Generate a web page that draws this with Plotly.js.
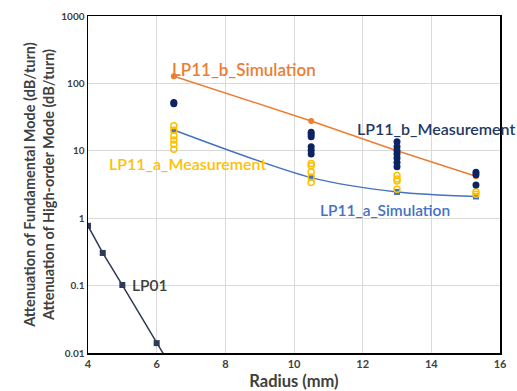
<!DOCTYPE html>
<html><head><meta charset="utf-8">
<script src="https://cdn.plot.ly/plotly-3.0.1.min.js"></script>
<style>html,body{margin:0;padding:0;background:#fff}#chart{width:517px;height:391px}</style>
</head><body><div id="chart"></div>
<script>
const simX = [6.5, 10.5, 13, 15.3];
const bSim = [128, 27.7, 10, 4.2];
const aSim = [20.4, 4.0, 2.45, 2.1];

const bMeasX = [6.5, 6.5, 10.5, 10.5, 10.5, 10.5, 10.5, 10.5, 13, 13, 13, 13, 13, 13, 13, 15.3, 15.3, 15.3];
const bMeas = [52, 50, 18.8, 17.6, 16.2, 11.5, 10.2, 9.0, 13.6, 11.5, 10, 9.0, 7.8, 6.7, 5.8, 4.8, 4.4, 3.1];

const aMeasX = [6.5, 6.5, 6.5, 6.5, 6.5, 6.5, 10.5, 10.5, 10.5, 10.5, 10.5, 13, 13, 13, 13, 15.3, 15.3];
const aMeas = [23.6, 20.2, 16.7, 14.5, 12.5, 10.5, 6.5, 6.0, 4.85, 4.1, 3.4, 4.3, 3.8, 3.55, 2.7, 2.47, 2.26];

const lp01X = [4, 4.43, 5, 6, 7];
const lp01 = [0.77, 0.305, 0.102, 0.014, 0.002];

const yTickVals = [0.01, 0.1, 1, 10, 100, 1000];
const yTickText = ['0.01', '0.1', '1', '10', '100', '1000'];

const FONT = 'Lato, "Open Sans", sans-serif';
const traces = [
  {x: lp01X, y: lp01, mode: 'lines+markers', line: {color: '#2f3b55', width: 1.5},
   marker: {symbol: 'square', size: 6, color: '#2f3b55'}, cliponaxis: true},
  {x: simX, y: aSim, mode: 'lines+markers', line: {color: '#4472c4', width: 1.5, shape: 'spline', smoothing: 0.8},
   marker: {symbol: 'square', size: 6, color: '#4472c4'}},
  {x: simX, y: bSim, mode: 'lines+markers', line: {color: '#ed7d31', width: 1.5},
   marker: {symbol: 'circle', size: 6, color: '#ed7d31'}},
  {x: aMeasX, y: aMeas, mode: 'markers',
   marker: {symbol: 'circle-open', size: 6, color: '#ffc000', line: {width: 1.5, color: '#ffc000'}}},
  {x: bMeasX, y: bMeas, mode: 'markers',
   marker: {symbol: 'circle', size: 7, color: '#0c2461'}}
];

function ann(text, x, y, color, size) {
  return {text: text, x: x, y: y, xref: 'paper', yref: 'paper',
    xanchor: 'left', yanchor: 'middle', showarrow: false,
    font: {family: FONT, size: size, color: color, weight: 600}};
}

const layout = {
  width: 517, height: 391,
  margin: {l: 88, r: 17, t: 16, b: 38},
  paper_bgcolor: '#fff', plot_bgcolor: '#fff',
  showlegend: false,
  font: {family: FONT, color: '#404040'},
  xaxis: {range: [4, 16], dtick: 2, tick0: 4, showgrid: true, gridcolor: '#d9d9d9', gridwidth: 1,
    showline: true, linecolor: '#000', linewidth: 1.5, mirror: true, zeroline: false, ticks: '',
    tickfont: {size: 11, color: '#404040', family: FONT, weight: 'bold'},
    title: {text: 'Radius (mm)', font: {size: 16.5, color: '#404040', family: FONT, weight: 'bold'}, standoff: 6}},
  yaxis: {type: 'log', range: [-2, 3], tickvals: yTickVals, ticktext: yTickText, showgrid: true,
    gridcolor: '#d9d9d9', gridwidth: 1, showline: true, linecolor: '#000', linewidth: 1.5, mirror: true,
    zeroline: false, ticks: '', tickfont: {size: 10, color: '#404040', family: FONT, weight: 'bold'},
    title: {text: 'Attenuation of Fundamental Mode (dB/turn)<br>Attenuation of High-order Mode (dB/turn)',
      font: {size: 14.5, color: '#404040', family: FONT, weight: 'bold'}, standoff: 3}},
  annotations: [
    ann('LP11_b_Simulation', 0.199, 0.840, '#ed7d31', 17),
    ann('LP11_b_Measurement', 0.648, 0.665, '#1f3864', 16),
    ann('LP11_a_Measurement', 0.046, 0.561, '#ffc000', 16),
    ann('LP11_a_Simulation', 0.558, 0.424, '#4472c4', 15.5),
    ann('LP01', 0.102, 0.202, '#404040', 15.5)
  ]
};
Plotly.newPlot('chart', traces, layout, {displayModeBar: false, staticPlot: true});
</script></body></html>
